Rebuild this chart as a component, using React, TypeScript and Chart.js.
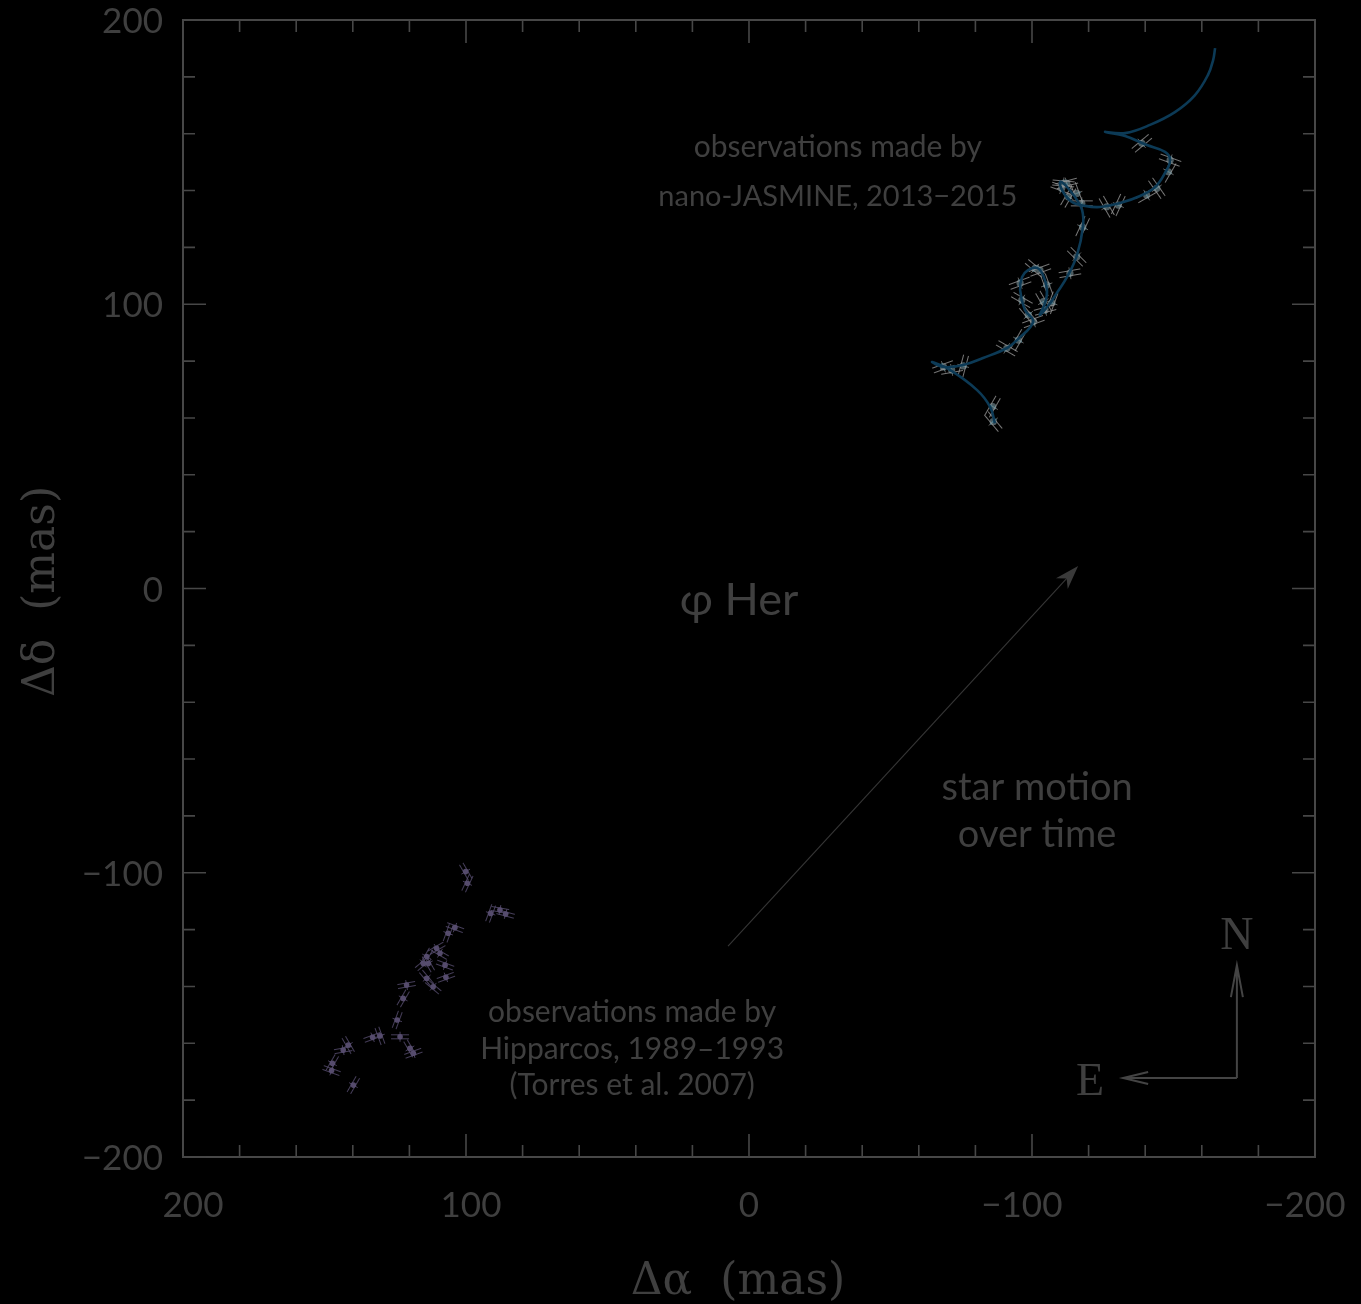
import { useEffect, useRef } from "react";
import { Chart, registerables } from "chart.js";

Chart.register(...registerables);

// Modelled nano-JASMINE astrometric track of φ Her (Δα, Δδ in mas)
const trackRa = [
  -86.9, -85.2, -80.6, -71, -64.7, -68.6, -75.6, -82.7, -91.2, -94.7, -100.4, -97.5,
  -95.8, -96.5, -98.6, -101.8, -103.9, -105.3, -104.6, -102.8, -106.4, -108.8, -112.4,
  -115.9, -118, -117.7, -115.2, -111.7, -109.9, -111, -114.1, -118.7, -124, -131.1,
  -138.2, -143.5, -147, -148.8, -147, -140.6, -132.9, -125.8, -132.9, -141.7, -150.5,
  -157.6, -162.2, -164, -164.7,
];
const trackDec = [
  58.2, 63.9, 69.8, 76.9, 79.7, 77.9, 78.6, 81.1, 84.6, 87.4, 93.8, 98, 105, 109.6,
  112, 112.8, 110.3, 105, 100.4, 96.2, 100.4, 104, 109.6, 117.3, 127.2, 133.2, 137.7,
  142, 143, 139.5, 136, 134.6, 134.2, 135.6, 138.1, 141.2, 146.2, 150.7, 153.6, 156,
  159.2, 160.6, 160.2, 163.1, 167.6, 173.6, 180.7, 185.9, 190.1,
];

// nano-JASMINE observations, 2013–2015
const jasmineRa = [
  -138.8, -148.8, -148.2, -144.1, -140.5, -130.5, -126.4, -117.6, -115.8, -112.8, -110.5,
  -111.1, -112.3, -117.9, -115.8, -113.4, -101.1, -102.8, -95.8, -105.2, -96.4, -107,
  -104, -98.7, -104.6, -100.5, -95.2, -91.1, -75.7, -71.6, -68.7, -86.1, -86.3,
];
const jasmineDec = [
  156.6, 150.7, 146.6, 140.8, 138.4, 134.9, 134.3, 135.5, 139, 137.8, 140.8, 142.5,
  142.5, 127.1, 116.7, 110.9, 112.6, 112, 107.4, 106.8, 101.5, 100.5, 100.9, 96.2, 98,
  93.9, 87.4, 84.5, 78.3, 76.9, 78, 64, 58.7,
];
// scan direction of each measurement, degrees
const jasmineScan = [
  -40, 20, -60, 55, -30, -65, 60, 0, 70, -60, 20, 5, -15, -65, 45, -10, 40, -20, -20,
  70, 30, -70, 60, 50, -15, -20, -60, 30, -75, -10, -20, -60, 50,
];

// Hipparcos observations, 1989–1993 (Torres et al. 2007)
const hipparcosRa = [
  100.1, 99.5, 91.3, 88, 86, 103.9, 106.3, 110.4, 109.2, 113.9, 113.3, 115.1, 107.4,
  107.1, 113.9, 111.6, 121, 122.2, 124.3, 123.3, 130.4, 133, 119.8, 118.6, 141.6, 143.4,
  147.2, 147.5, 139.8,
];
const hipparcosDec = [
  -99.6, -103.7, -114.3, -113.1, -114.5, -119.3, -121.3, -126.6, -128.3, -129.5, -131.9,
  -131.9, -132.5, -136.8, -137.1, -140.1, -139.5, -144.2, -151.8, -157.7, -157.4, -157.9,
  -161.8, -163.5, -160.6, -162.4, -167, -169.6, -174.7,
];
const hipparcosScan = [
  60, -65, -70, 10, 15, 20, -70, -30, 30, -60, 60, -40, 20, -20, 50, 40, -10, -60, -70,
  0, 70, -20, 60, -20, 60, -10, -60, 20, -60,
];

const axisTicks = [-200, -100, 0, 100, 200];

const INK = "#3f3f3f";
const FRAME = "#474747";
const SANS = "Lato, 'Open Sans', sans-serif";
const SERIF = "'DejaVu Serif', serif";

const pairs = (xs: number[], ys: number[]) => xs.map((x, i) => ({ x, y: ys[i] }));
const fmtTick = (v: number) => (v < 0 ? "\u2212" + Math.abs(v) : String(v));

// marker: pair of parallel strokes, rotated along the scan direction
function doubleStroke(len: number, gap: number, color: string) {
  const c = document.createElement("canvas");
  c.width = len + 2;
  c.height = gap + 3;
  const g = c.getContext("2d")!;
  g.strokeStyle = color;
  g.lineWidth = 1;
  g.beginPath();
  g.moveTo(1, 1.5);
  g.lineTo(len + 1, 1.5);
  g.moveTo(1, gap + 1.5);
  g.lineTo(len + 1, gap + 1.5);
  g.stroke();
  return c;
}

const decorPlugin = {
  id: "decor",
  beforeDraw(chart: any) {
    const { ctx, width, height } = chart;
    ctx.save();
    ctx.fillStyle = "#000";
    ctx.fillRect(0, 0, width, height);
    ctx.restore();
  },
  afterDraw(chart: any) {
    const { ctx, chartArea: a, scales } = chart;
    const xs = scales.x;
    const ys = scales.y;
    const X = (v: number) => xs.getPixelForValue(v);
    const Y = (v: number) => ys.getPixelForValue(v);
    ctx.save();

    // frame with inward ticks on all four sides
    ctx.strokeStyle = FRAME;
    ctx.lineWidth = 2;
    ctx.strokeRect(a.left, a.top, a.right - a.left, a.bottom - a.top);
    ctx.lineWidth = 1.6;
    ctx.beginPath();
    for (let v = -200; v <= 200; v += 20) {
      const len = v % 100 === 0 ? 23 : 12;
      const px = X(v);
      ctx.moveTo(px, a.bottom);
      ctx.lineTo(px, a.bottom - len);
      ctx.moveTo(px, a.top);
      ctx.lineTo(px, a.top + len);
      const py = Y(v);
      ctx.moveTo(a.left, py);
      ctx.lineTo(a.left + len, py);
      ctx.moveTo(a.right, py);
      ctx.lineTo(a.right - len, py);
    }
    ctx.stroke();

    // tick labels
    ctx.fillStyle = INK;
    ctx.font = `35px ${SANS}`;
    ctx.textBaseline = "alphabetic";
    ctx.textAlign = "right";
    for (const v of axisTicks) {
      ctx.fillText(fmtTick(v), a.left - 20, Y(v) + 13);
    }
    ctx.textAlign = "left";
    for (const v of axisTicks) {
      const s = fmtTick(v);
      const digits = String(Math.abs(v));
      const dw = ctx.measureText(digits).width;
      const fw = ctx.measureText(s).width;
      const nudge = v > 0 ? v / 20 : 0;
      ctx.fillText(s, X(v) + dw / 2 - fw + nudge, a.bottom + 60);
    }

    // axis titles
    ctx.font = `44px ${SERIF}`;
    ctx.textAlign = "center";
    ctx.fillText("Δα  (mas)", (a.left + a.right) / 2 - 11, a.bottom + 137);
    ctx.save();
    ctx.translate(54, (a.top + a.bottom) / 2 + 3);
    ctx.rotate(-Math.PI / 2);
    ctx.fillText("Δδ  (mas)", 0, 0);
    ctx.restore();

    // annotations
    ctx.font = `30px ${SANS}`;
    ctx.fillText("observations made by", X(-31.4), Y(151.8));
    ctx.font = `29px ${SANS}`;
    ctx.fillText("nano-JASMINE, 2013\u22122015", X(-31.4), Y(134.6));
    ctx.font = `30px ${SANS}`;
    ctx.fillText("observations made by", X(41.3), Y(-152.5));
    ctx.fillText("Hipparcos, 1989\u20131993", X(41.3), Y(-165.5));
    ctx.fillText("(Torres et al. 2007)", X(41.3), Y(-178.2));
    ctx.font = `45px ${SANS}`;
    ctx.fillText("φ Her", X(3.5), Y(-9.3));
    ctx.font = `38px ${SANS}`;
    ctx.fillText("star motion", X(-101.8), Y(-74.4));
    ctx.fillText("over time", X(-101.8), Y(-90.8));

    // proper-motion arrow
    const x0 = X(7.4), y0 = Y(-125.8), x1 = X(-116.3), y1 = Y(7.9);
    const dx = x1 - x0, dy = y1 - y0;
    const d = Math.hypot(dx, dy);
    const ux = dx / d, uy = dy / d, nx = -uy, ny = ux;
    ctx.strokeStyle = "#363636";
    ctx.lineWidth = 1.1;
    ctx.beginPath();
    ctx.moveTo(x0, y0);
    ctx.lineTo(x1 - ux * 12, y1 - uy * 12);
    ctx.stroke();
    ctx.fillStyle = "#3a3a3a";
    ctx.beginPath();
    ctx.moveTo(x1, y1);
    ctx.lineTo(x1 - ux * 24 + nx * 8, y1 - uy * 24 + ny * 8);
    ctx.lineTo(x1 - ux * 17, y1 - uy * 17);
    ctx.lineTo(x1 - ux * 24 - nx * 8, y1 - uy * 24 - ny * 8);
    ctx.closePath();
    ctx.fill();

    // compass
    const cx = X(-172.4), cy = Y(-172.2);
    const nTip = Y(-132.5), eTip = X(-132.2);
    ctx.strokeStyle = "#444";
    ctx.lineWidth = 2;
    ctx.beginPath();
    ctx.moveTo(cx, cy);
    ctx.lineTo(cx, nTip);
    ctx.moveTo(cx - 6, nTip + 32);
    ctx.lineTo(cx, nTip);
    ctx.lineTo(cx + 6, nTip + 32);
    ctx.moveTo(cx, cy);
    ctx.lineTo(eTip, cy);
    ctx.moveTo(eTip + 25, cy - 6);
    ctx.lineTo(eTip, cy);
    ctx.lineTo(eTip + 25, cy + 6);
    ctx.stroke();
    ctx.fillStyle = INK;
    ctx.font = `46px 'Liberation Serif', serif`;
    ctx.textAlign = "center";
    ctx.fillText("N", cx, nTip - 16);
    ctx.fillText("E", X(-120.5), cy + 17);

    ctx.restore();
  },
};

export default function App() {
  const canvasRef = useRef<HTMLCanvasElement | null>(null);

  useEffect(() => {
    const canvas = canvasRef.current;
    if (!canvas) return;
    const jasMark = doubleStroke(22, 5, "rgba(150,150,150,0.8)");
    const hipMark = doubleStroke(18, 4, "rgba(88,78,112,0.8)");
    const chart = new Chart(canvas, {
      type: "scatter",
      data: {
        datasets: [
          {
            label: "Hipparcos scan",
            data: pairs(hipparcosRa, hipparcosDec),
            pointStyle: hipMark,
            pointRotation: (c: any) => hipparcosScan[c.dataIndex],
          } as any,
          {
            label: "Hipparcos cross-scan",
            data: pairs(hipparcosRa, hipparcosDec),
            pointStyle: "line",
            pointRadius: 5,
            pointRotation: (c: any) => hipparcosScan[c.dataIndex] + 90,
            pointBorderColor: "rgba(88,78,112,0.8)",
            pointBorderWidth: 1,
            pointBackgroundColor: "transparent",
          } as any,
          {
            label: "Hipparcos",
            data: pairs(hipparcosRa, hipparcosDec),
            pointStyle: "circle",
            pointRadius: 2.8,
            pointBackgroundColor: "#544a6a",
            pointBorderWidth: 0,
          },
          {
            type: "line",
            label: "track",
            data: pairs(trackRa, trackDec),
            borderColor: "#0c3a56",
            borderWidth: 2.6,
            pointRadius: 0,
            tension: 0.4,
            fill: false,
          } as any,
          {
            label: "nano-JASMINE scan",
            data: pairs(jasmineRa, jasmineDec),
            pointStyle: jasMark,
            pointRotation: (c: any) => jasmineScan[c.dataIndex],
          } as any,
          {
            label: "nano-JASMINE cross-scan",
            data: pairs(jasmineRa, jasmineDec),
            pointStyle: "line",
            pointRadius: 6,
            pointRotation: (c: any) => jasmineScan[c.dataIndex] + 90,
            pointBorderColor: "rgba(120,120,120,0.8)",
            pointBorderWidth: 1,
            pointBackgroundColor: "transparent",
          } as any,
          {
            label: "nano-JASMINE along-track",
            data: pairs(jasmineRa, jasmineDec),
            pointStyle: "line",
            pointRadius: 4,
            pointRotation: (c: any) => jasmineScan[c.dataIndex] + 90,
            pointBorderColor: "rgba(40,150,180,0.8)",
            pointBorderWidth: 1.2,
            pointBackgroundColor: "transparent",
          } as any,
          {
            label: "nano-JASMINE",
            data: pairs(jasmineRa, jasmineDec),
            pointStyle: "circle",
            pointRadius: 3.6,
            pointBackgroundColor: "#4b5b60",
            pointBorderWidth: 0,
          },
        ],
      },
      options: {
        responsive: false,
        devicePixelRatio: 1,
        animation: false,
        events: [],
        layout: { padding: { left: 183, top: 20, right: 46, bottom: 147 } },
        plugins: {
          legend: { display: false },
          tooltip: { enabled: false },
        },
        scales: {
          x: { type: "linear", reverse: true, min: -200, max: 200, display: false },
          y: { type: "linear", min: -200, max: 200, display: false },
        },
      },
      plugins: [decorPlugin],
    });
    return () => chart.destroy();
  }, []);

  return (
    <div
      style={{
        position: "absolute",
        left: 0,
        top: 0,
        width: 1361,
        height: 1304,
        background: "#000",
      }}
    >
      <canvas ref={canvasRef} width={1361} height={1304} style={{ display: "block" }} />
    </div>
  );
}
